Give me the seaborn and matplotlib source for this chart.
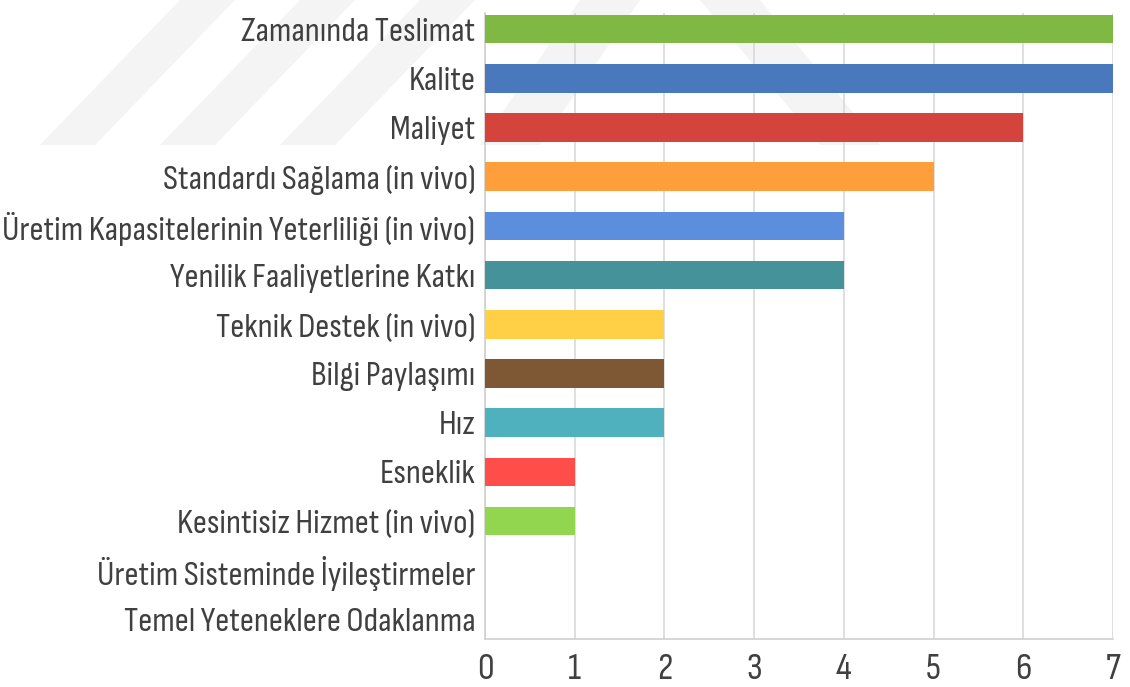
import matplotlib
matplotlib.use("Agg")
import matplotlib.pyplot as plt
import seaborn as sns
import pandas as pd
from matplotlib import font_manager
from matplotlib.patches import Polygon
from matplotlib.textpath import TextPath
from matplotlib.font_manager import FontProperties

categories = [
    "Zamanında Teslimat",
    "Kalite",
    "Maliyet",
    "Standardı Sağlama (in vivo)",
    "Üretim Kapasitelerinin Yeterliliği (in vivo)",
    "Yenilik Faaliyetlerine Katkı",
    "Teknik Destek (in vivo)",
    "Bilgi Paylaşımı",
    "Hız",
    "Esneklik",
    "Kesintisiz Hizmet (in vivo)",
    "Üretim Sisteminde İyileştirmeler",
    "Temel Yeteneklere Odaklanma",
]
values = [7, 7, 6, 5, 4, 4, 2, 2, 2, 1, 1, 0, 0]
colors = ["#7FB843", "#4A78BC", "#D5433D", "#FF9F3B", "#5B8FDE", "#46929A",
          "#FFD045", "#7E5735", "#4FB0BE", "#FF4D4A", "#92D650", "#BBBBBB", "#BBBBBB"]
xticks = [0, 1, 2, 3, 4, 5, 6, 7]

df = pd.DataFrame({"category": categories, "value": values})

sns.set_theme(style="white")

# pick a narrow family whose proportions best match the reference labels
available = {f.name for f in font_manager.fontManager.ttflist}
candidates = ["Sofia Sans Condensed", "Roboto Condensed", "PT Sans Narrow",
              "Sofia Sans Extra Condensed", "Open Sans"]
target_w, target_cap = 468.0, 22.0
best = None
for fam in candidates:
    if fam not in available:
        continue
    fp = FontProperties(family=fam)
    w_em = TextPath((0, 0), categories[4], size=1, prop=fp).get_extents().width
    cap_em = TextPath((0, 0), "H", size=1, prop=fp).get_extents().height
    size_px = target_w / w_em
    err = abs(size_px * cap_em - target_cap)
    if best is None or err < best[0]:
        best = (err, fam, size_px, cap_em)
if best is None:
    best = (0, "DejaVu Sans", 20.0, 0.73)
_, family, label_px, cap_em = best
label_pt = label_px * 72 / 100
fp = FontProperties(family=family)
dig_em = TextPath((0, 0), "0", size=1, prop=fp).get_extents().height
tick_pt = (25.0 / dig_em) * 72 / 100

plt.rcParams["font.family"] = [family, "DejaVu Sans"]

fig = plt.figure(figsize=(11.3, 6.87), dpi=100)
fig.patch.set_facecolor("white")

# faint watermark in the background
wm = "#F4F4F4"
for shape in [
    [(40, 145), (95, 145), (235, 0), (180, 0)],
    [(160, 145), (215, 145), (355, 0), (300, 0)],
    [(280, 145), (335, 145), (475, 0), (420, 0)],
    [(480, 145), (540, 145), (640, 0), (580, 0)],
    [(700, 0), (760, 0), (880, 145), (820, 145)],
]:
    pts = [(x / 1130, 1 - y / 687) for x, y in shape]
    fig.patches.append(Polygon(pts, closed=True, transform=fig.transFigure,
                               facecolor=wm, edgecolor="none", zorder=-5))

ax = fig.add_axes([485 / 1130, 1 - 639 / 687, (1113 - 485) / 1130, (639 - 13) / 687])
ax.set_zorder(2)
ax.set_facecolor("none")

sns.barplot(data=df, x="value", y="category", hue="category", palette=colors,
            legend=False, width=0.58, saturation=1, linewidth=0, ax=ax, zorder=3)

ax.set_xlim(0, 7)
ax.set_ylim(12.4, -0.33)
ax.set_xticks(xticks)
ax.set_xlabel("")
ax.set_ylabel("")
ax.grid(axis="x", color="#D9D9D9", linewidth=1.2, zorder=0)
ax.grid(axis="y", visible=False)
for s in ["top", "right"]:
    ax.spines[s].set_visible(False)
for s in ["left", "bottom"]:
    ax.spines[s].set_color("#D0D0D0")
    ax.spines[s].set_linewidth(1.2)
ax.tick_params(axis="x", colors="#404040", length=4, width=1.2, color="#D0D0D0",
               pad=6, labelsize=tick_pt)
ax.tick_params(axis="y", colors="#404040", length=0, pad=7, labelsize=label_pt)

fig.savefig("out.png", dpi=100, facecolor="white")
